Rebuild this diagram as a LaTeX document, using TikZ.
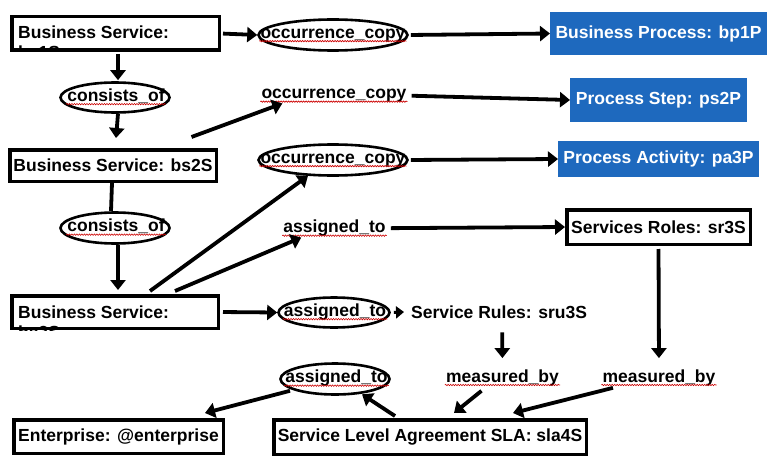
\documentclass[tikz,border=0pt]{standalone}
\usepackage{fontspec}
\setmainfont{Liberation Sans}
\usetikzlibrary{arrows.meta,shapes.geometric,decorations.pathmorphing,calc}
\definecolor{bpblue}{RGB}{30,105,190}
\begin{document}
\begin{tikzpicture}[x=1pt,y=-1pt,
  every node/.style={font=\fontsize{17.5}{21}\selectfont\bfseries, inner sep=0pt},
  box/.style={draw, line width=3.5pt, rectangle},
  bluebox/.style={fill=bpblue, text=white, rectangle, outer sep=0pt},
  oval/.style={draw, ellipse, line width=2.6pt},
  lbl/.style={inner sep=1pt},
  arr/.style={line width=3.8pt, -{Triangle[length=10pt,width=15pt]}},
  conn/.style={line width=3.8pt},
  squig/.style={draw=red!80!black, line width=0.6pt, decorate, decoration={snake,amplitude=0.7pt,segment length=2.5pt}}
]
\path[fill=white,use as bounding box] (0,0) rectangle (770,468);

% boxes
\node[box, minimum width=207.5pt, minimum height=33.5pt] (bs1) at (115.5,33.5) {};
\begin{scope}
  \clip (bs1.south west) rectangle (bs1.north east);
  \node[anchor=base west] (bs1a) at (18,39) {Business Service:};
  \node[anchor=base west] (bs1b) at (18,59) {bs1S};
\end{scope}
\node[box, minimum width=206.5pt, minimum height=31.5pt] (bs2) at (113,165.5) {Business Service: bs2S};
\node[box, minimum width=206.5pt, minimum height=32.5pt] (bs3) at (115,312) {};
\begin{scope}
  \clip (bs3.south west) rectangle (bs3.north east);
  \node[anchor=base west] (bs3a) at (18,318) {Business Service:};
  \node[anchor=base west] (bs3b) at (18,338) {bs3S};
\end{scope}
\node[box, minimum width=183.5pt, minimum height=34.5pt] (sr) at (658.5,227) {Services Roles: sr3S};
\node[box, minimum width=312.5pt, minimum height=34.5pt] (sla) at (430,437) {Service Level Agreement SLA: sla4S};
\node[box, minimum width=209.5pt, minimum height=33.5pt] (ent) at (118.5,436.5) {Enterprise: @enterprise};

\node[bluebox, minimum width=217pt, minimum height=43pt] (bp) at (658.5,33.5) {Business Process: bp1P};
\node[bluebox, minimum width=177pt, minimum height=44pt] (ps) at (658.5,100) {Process Step: ps2P};
\node[bluebox, minimum width=201pt, minimum height=36pt] (pa) at (658.5,159) {Process Activity: pa3P};

% ellipses
\node[oval, minimum width=149pt, minimum height=31pt] (oc1) at (333,35) {};
\node[lbl, anchor=mid] (oc1t) at (333,35.5) {occurrence\_copy};
\node[oval, minimum width=109pt, minimum height=30pt] (co1) at (115,97.5) {};
\node[lbl, anchor=mid] (co1t) at (116,98.5) {consists\_of};
\node[oval, minimum width=149pt, minimum height=31pt] (oc3) at (333,160) {};
\node[lbl, anchor=mid] (oc3t) at (333,160.5) {occurrence\_copy};
\node[oval, minimum width=109pt, minimum height=31pt] (co2) at (115,228) {};
\node[lbl, anchor=mid] (co2t) at (116,229) {consists\_of};
\node[oval, minimum width=111pt, minimum height=30pt] (at1) at (334,312.5) {};
\node[lbl, anchor=mid] (at1t) at (335,313.5) {assigned\_to};
\node[oval, minimum width=109pt, minimum height=31pt] (at3) at (335,379) {};
\node[lbl, anchor=mid] (at3t) at (336.5,380) {assigned\_to};

% plain labels
\node[lbl, anchor=mid] (oc2) at (334,96) {occurrence\_copy};
\node[lbl, anchor=mid] (at2) at (334.5,230) {assigned\_to};
\node[lbl, anchor=base west] (sru) at (410,318) {Service Rules: sru3S};
\node[lbl, anchor=base] (mb1) at (502.5,382) {measured\_by};
\node[lbl, anchor=base] (mb2) at (659,382) {measured\_by};

% spell-check squiggles
\foreach \t in {oc1t,co1t,oc3t,co2t,at1t,at3t,oc2,at2,mb1,mb2}
  \draw[squig] ([yshift=-3pt]\t.base west) -- ([yshift=-3pt]\t.base east);

% connectors
\draw[arr, shorten <=2pt] (bs1.east) -- (oc1.west);
\draw[arr, shorten <=2pt] (oc1.east) -- (bp.west);
\draw[arr, shorten <=2pt, shorten >=1pt] ([xshift=2.5pt]bs1.south) -- ([xshift=3pt]co1.north);
\draw[arr] ([xshift=3pt]co1.south) -- ([xshift=3pt,yshift=10pt]bs2.north);
\draw[arr] ([xshift=-26.5pt,yshift=11pt]bs2.north east) -- ([xshift=22pt]oc2.south west);
\draw[arr] ([xshift=4pt]oc2.east) -- (ps.west);
\draw[arr, shorten <=2pt] (oc3.east) -- (pa.west);
\draw[conn] ([xshift=-1pt]bs2.south) -- ([xshift=-4pt]co2.north);
\draw[arr] ([xshift=3pt]co2.south) -- ([xshift=3pt,yshift=4pt]bs3.north);
\draw[arr] ([xshift=35pt,yshift=3pt]bs3.north) -- ([xshift=-25pt,yshift=1pt]oc3.south);
\draw[arr] ([xshift=60pt,yshift=3pt]bs3.north) -- ([xshift=19pt]at2.south west);
\draw[arr] ([xshift=4pt]at2.east) -- (sr.west);
\draw[arr, shorten <=3pt] (bs3.east) -- (at1.west);
\draw[line width=3pt, -{Triangle[length=8pt,width=12pt]}, shorten <=3pt, shorten >=6pt] (at1.east) -- (sru.west);
\draw[arr, shorten <=13pt, shorten >=10pt] ([xshift=3pt]sru.south) -- (mb1.north);
\draw[arr, shorten <=3pt, shorten >=10pt] (sr.south) -- (mb2.north);
\draw[arr] ([xshift=-21pt,yshift=-4pt]mb1.south) -- ([xshift=24pt,yshift=5pt]sla.north);
\draw[arr] ([xshift=-46pt,yshift=-1pt]mb2.south) -- ([xshift=83pt,yshift=5pt]sla.north);
\draw[arr] ([xshift=-35pt,yshift=2pt]sla.north) -- ([xshift=27pt,yshift=1.5pt]at3.south);
\draw[arr] ([xshift=-45pt,yshift=5pt]at3.south) -- ([xshift=86.5pt,yshift=5pt]ent.north);
\end{tikzpicture}
\end{document}
